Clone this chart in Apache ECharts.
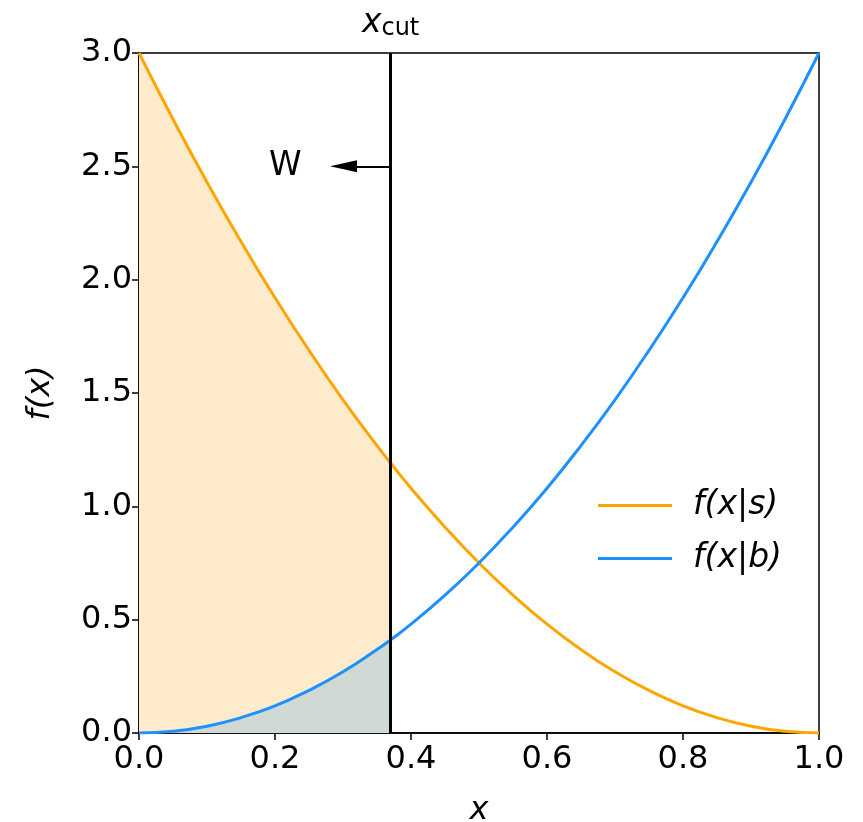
<!DOCTYPE html>
<html>
<head>
<meta charset="utf-8">
<script src="https://cdn.jsdelivr.net/npm/echarts@6/dist/echarts.min.js"></script>
<style>
  html, body { margin: 0; padding: 0; background: #fff; }
  #chart { width: 863px; height: 822px; }
</style>
</head>
<body>
<div id="chart"></div>
<script>
// values
const xs      = [0, 0.05, 0.1, 0.15, 0.2, 0.25, 0.3, 0.35, 0.37, 0.4, 0.45, 0.5, 0.55, 0.6, 0.65, 0.7, 0.75, 0.8, 0.85, 0.9, 0.95, 1.0]
const fSignal = [3.0, 2.708, 2.43, 2.168, 1.92, 1.688, 1.47, 1.268, 1.191, 1.08, 0.908, 0.75, 0.608, 0.48, 0.368, 0.27, 0.188, 0.12, 0.068, 0.03, 0.008, 0]
const fBack   = [0, 0.008, 0.03, 0.068, 0.12, 0.188, 0.27, 0.368, 0.411, 0.48, 0.608, 0.75, 0.908, 1.08, 1.268, 1.47, 1.688, 1.92, 2.168, 2.43, 2.708, 3.0]
const xCut = 0.37
const arrowBase = 0.30
const arrowHead = 0.3007
const arrowY = 2.5
const wX = 0.215

const FONT = 'DejaVu Sans'
const COLORS = { s: '#ffa500', b: '#1e90ff', sFill: '#feebcc', bFill: '#d1d9d4' }

const pairs = (ys) => xs.map((x, i) => [x, ys[i]])
const upToCut = (ys) => pairs(ys).filter(p => p[0] <= xCut)

const chart = echarts.init(document.getElementById('chart'))
chart.setOption({
  animation: false,
  textStyle: { fontFamily: FONT },
  grid: {
    left: 139, right: 44, top: 53, bottom: 89, outerBoundsMode: 'none',
    show: true, borderColor: '#000', borderWidth: 1.5,
  },
  legend: {
    data: ['f(x|s)', 'f(x|b)'],
    orient: 'vertical',
    left: 593, top: 484,
    itemWidth: 74, itemHeight: 3, itemGap: 20,
    icon: 'rect',
    textStyle: { fontSize: 33, fontStyle: 'italic', color: '#000', fontFamily: FONT, padding: [0, 0, 0, 16] },
  },
  xAxis: {
    type: 'value', min: 0, max: 1, interval: 0.2,
    name: 'x', nameLocation: 'middle', nameGap: 62,
    nameTextStyle: { fontSize: 32, fontStyle: 'italic', color: '#000' },
    axisLine: { lineStyle: { color: '#000', width: 1.5 } },
    axisTick: { length: 7, lineStyle: { color: '#000', width: 1.5 } },
    axisLabel: { fontSize: 32, color: '#000', margin: 11, formatter: v => v.toFixed(1) },
    splitLine: { show: false },
  },
  yAxis: {
    type: 'value', min: 0, max: 3, interval: 0.5,
    name: 'f(x)', nameLocation: 'middle', nameGap: 82,
    nameTextStyle: { fontSize: 32, fontStyle: 'italic', color: '#000' },
    axisLine: { show: true, lineStyle: { color: '#000', width: 1.5 } },
    axisTick: { show: true, length: 7, lineStyle: { color: '#000', width: 1.5 } },
    axisLabel: { fontSize: 32, color: '#000', margin: 7, formatter: v => v.toFixed(1) },
    splitLine: { show: false },
  },
  series: [
    {
      name: 'sFill', type: 'line', data: upToCut(fSignal), smooth: true, showSymbol: false,
      lineStyle: { width: 0 }, areaStyle: { color: COLORS.sFill, opacity: 1 }, z: 1,
    },
    {
      name: 'bFill', type: 'line', data: upToCut(fBack), smooth: true, showSymbol: false,
      lineStyle: { width: 0 }, areaStyle: { color: COLORS.bFill, opacity: 1 }, z: 2,
    },
    {
      name: 'f(x|s)', type: 'line', data: pairs(fSignal), smooth: true, showSymbol: false,
      color: COLORS.s, lineStyle: { width: 3, color: COLORS.s }, z: 3,
    },
    {
      name: 'f(x|b)', type: 'line', data: pairs(fBack), smooth: true, showSymbol: false,
      color: COLORS.b, lineStyle: { width: 3, color: COLORS.b }, z: 3,
    },
    {
      name: 'cut', type: 'line', data: [], z: 5,
      markLine: {
        silent: true, symbol: ['none', 'none'], animation: false,
        lineStyle: { color: '#000', width: 3, type: 'solid' },
        label: {
          show: true, position: 'end', distance: 12,
          formatter: '{a|x}{b|cut}',
          rich: {
            a: { fontSize: 33, fontStyle: 'italic', color: '#000', fontFamily: FONT },
            b: { fontSize: 24, color: '#000', fontFamily: FONT, padding: [12, 0, 0, 0] },
          },
        },
        data: [{ xAxis: xCut }],
      },
    },
    {
      name: 'arrow', type: 'line', data: [], z: 5,
      markLine: {
        silent: true, symbol: ['none', 'none'], animation: false,
        lineStyle: { color: '#000', width: 2, type: 'solid' },
        label: { show: false },
        data: [[{ coord: [xCut, arrowY] }, { coord: [arrowBase, arrowY] }]],
      },
      markPoint: {
        silent: true,
        data: [
          {
            coord: [arrowHead, arrowY],
            symbol: 'path://M6,0 L12,27 L0,27 Z', symbolSize: [12, 27], symbolRotate: 90,
            itemStyle: { color: '#000' }, label: { show: false },
          },
          {
            coord: [wX, arrowY], symbol: 'circle', symbolSize: 0,
            label: { show: true, formatter: 'W', fontSize: 33, color: '#000', fontFamily: FONT, position: 'inside' },
          },
        ],
      },
    },
  ],
})
</script>
</body>
</html>
